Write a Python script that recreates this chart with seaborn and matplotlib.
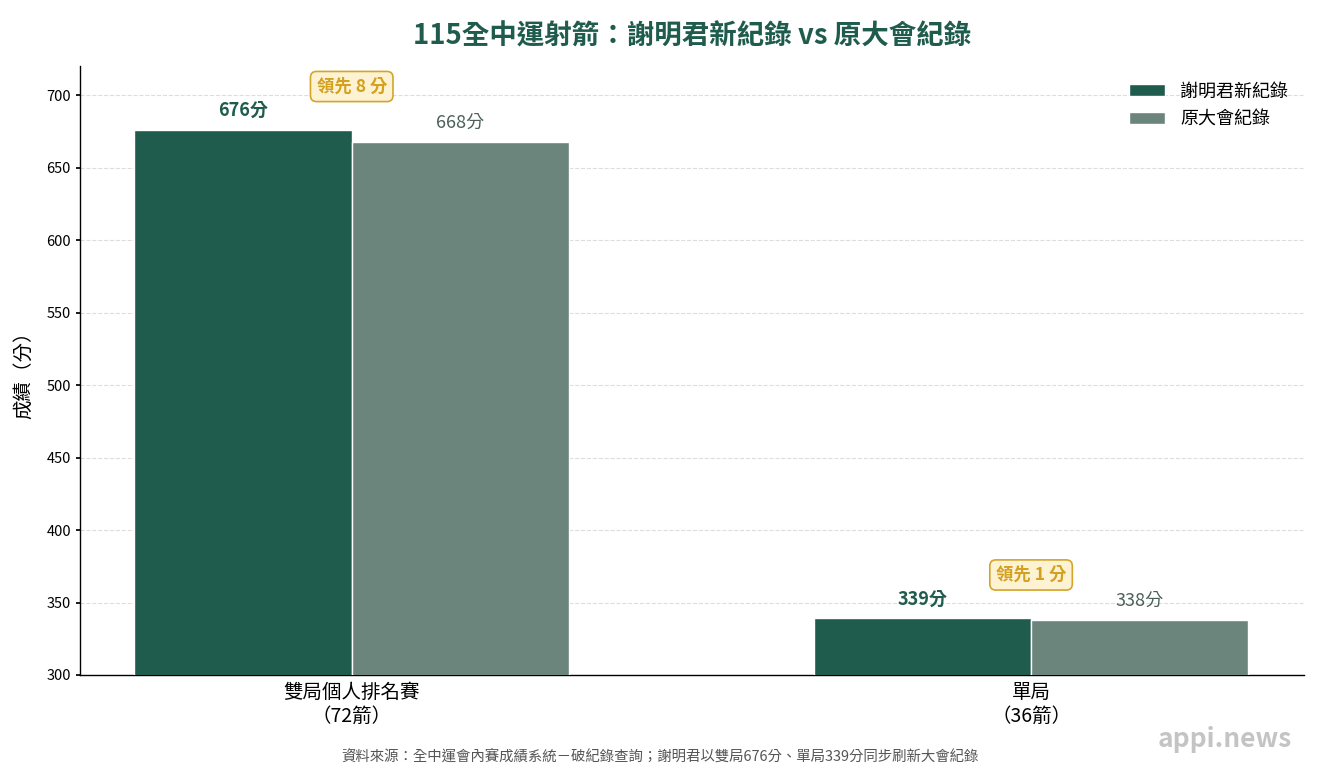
import matplotlib
matplotlib.use("Agg")
import matplotlib.pyplot as plt
import pandas as pd
import seaborn as sns

# datos
events = ["雙局個人排名賽\n（72箭）", "單局\n（36箭）"]
new_record = [676, 339]
old_record = [668, 338]
series = ["謝明君新紀錄", "原大會紀錄"]
leads = ["領先 8 分", "領先 1 分"]

dark = "#1f5c4d"
gray = "#6b847c"
gold = "#d4a020"

sns.set_theme(style="white")
plt.rcParams["font.family"] = ["Noto Sans CJK TC", "DejaVu Sans"]
plt.rcParams["text.color"] = "black"
plt.rcParams["axes.labelcolor"] = "black"
plt.rcParams["xtick.color"] = "black"
plt.rcParams["ytick.color"] = "black"

df = pd.DataFrame({
    "event": events * 2,
    "score": new_record + old_record,
    "series": [series[0]] * 2 + [series[1]] * 2,
})

fig, ax = plt.subplots(figsize=(13.2, 7.7), dpi=100)
fig.subplots_adjust(left=0.0606, right=0.988, top=0.914, bottom=0.1234)

sns.barplot(data=df, x="event", y="score", hue="series", order=events,
            hue_order=series, palette=[dark, gray], saturation=1, width=0.64,
            edgecolor="white", linewidth=1, ax=ax, zorder=3)

ax.set_ylim(300, 720)
ax.set_xlim(-0.4, 1.402)
ax.set_yticks(range(300, 701, 50))
ax.tick_params(axis="y", labelsize=10.5, length=3, left=True)
ax.tick_params(axis="x", labelsize=14, length=0, pad=5)
ax.yaxis.grid(True, linestyle="--", color="#dddddd", linewidth=0.8)
ax.set_axisbelow(True)
sns.despine(ax=ax)
for s in ["left", "bottom"]:
    ax.spines[s].set_color("black")
    ax.spines[s].set_linewidth(1)

ax.set_xlabel("")
ax.set_ylabel("成績（分）", fontsize=14, labelpad=9)

# etiquetas de valor
for i, (a, b) in enumerate(zip(new_record, old_record)):
    ax.annotate(f"{a}分", (i - 0.16, a), xytext=(0, 7), textcoords="offset points",
                ha="center", va="bottom", fontsize=13, fontweight="bold", color=dark)
    ax.annotate(f"{b}分", (i + 0.16, b), xytext=(0, 7), textcoords="offset points",
                ha="center", va="bottom", fontsize=13, color="#4d5f59")
    ax.text(i, max(a, b) + 30, leads[i], ha="center", va="center", fontsize=12.5,
            fontweight="bold", color=gold,
            bbox=dict(boxstyle="round,pad=0.35", fc="#fdf3d2", ec="#d4a52a", lw=1.2))

leg = ax.legend(loc="upper right", frameon=False, fontsize=13, handlelength=2.0,
                handleheight=0.7, labelspacing=0.55, borderaxespad=0.5)

ax.set_title("115全中運射箭：謝明君新紀錄 vs 原大會紀錄", fontsize=19.8,
             fontweight="bold", color=dark, pad=16)
fig.text(0.5, 0.017, "資料來源：全中運會內賽成績系統－破紀錄查詢；謝明君以雙局676分、單局339分同步刷新大會紀錄",
         ha="center", va="center", fontsize=10.4, color="#555555")
fig.text(0.928, 0.04, "appi.news", ha="center", va="center", fontsize=19,
         fontweight="bold", color="#c4c4c4")

fig.savefig("out.png", dpi=100)
